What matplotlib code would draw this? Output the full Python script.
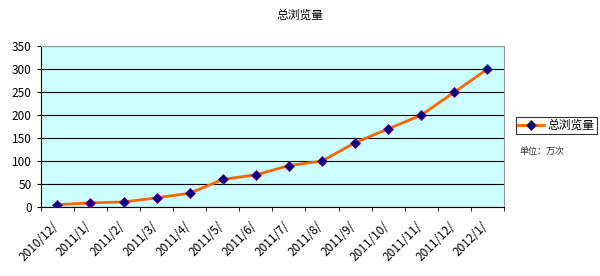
import numpy as np
import matplotlib
matplotlib.use("Agg")
import matplotlib.pyplot as plt
import matplotlib.transforms as mtransforms
from matplotlib.ticker import FixedLocator

plt.rcParams["font.family"] = ["Noto Sans CJK SC", "DejaVu Sans"]

# data
months = ["2010/12/", "2011/1/", "2011/2/", "2011/3/", "2011/4/", "2011/5/",
          "2011/6/", "2011/7/", "2011/8/", "2011/9/", "2011/10/", "2011/11/",
          "2011/12/", "2012/1/"]
views = [5, 9, 11, 20, 30, 60, 70, 90, 100, 140, 170, 200, 250, 300]
y_ticks = [0, 50, 100, 150, 200, 250, 300, 350]

fig = plt.figure(figsize=(6, 2.76), dpi=100)
ax = fig.add_axes([0.068, 0.25, 0.772, 0.583])
ax.set_facecolor("#CCFFFF")

x = np.arange(len(months))
ax.plot(x, views, color="#FF6600", lw=2, marker="D", ms=5,
        mfc="#000080", mec="#800080", mew=0.6, label="总浏览量", zorder=3)

ax.set_xlim(-0.5, len(months) - 0.5)
ax.set_ylim(0, 350)
ax.set_yticks(y_ticks)
ax.yaxis.grid(True, color="black", lw=0.8)
ax.set_axisbelow(True)

ax.set_xticks(x)
ax.set_xticklabels(months, rotation=45, ha="right", va="top",
                   rotation_mode="anchor", fontsize=8.5)
ax.tick_params(axis="x", length=0, pad=9)
# nudge the slanted labels a little to the left, like the original
shift = mtransforms.ScaledTranslation(-6 / 100, 0, fig.dpi_scale_trans)
for lbl in ax.get_xticklabels():
    lbl.set_transform(lbl.get_transform() + shift)
ax.xaxis.set_minor_locator(FixedLocator(np.arange(-0.5, len(months), 1)))
ax.tick_params(axis="x", which="minor", length=3, color="black", direction="out")
ax.tick_params(axis="y", length=3, labelsize=8.5, color="black")

for side in ["top", "right"]:
    ax.spines[side].set_color("#999999")
for side in ["left", "bottom"]:
    ax.spines[side].set_color("black")

fig.text(0.5, 0.945, "总浏览量", ha="center", va="center", fontsize=8.5)

leg = fig.legend(loc="center left", bbox_to_anchor=(0.850, 0.545),
                 fontsize=8.5, frameon=True, fancybox=False, edgecolor="black",
                 handlelength=2.2, borderpad=0.2, handletextpad=0.3)
leg.get_frame().set_linewidth(0.8)
fig.text(0.865, 0.452, "单位：万次", ha="left", va="center", fontsize=6.5,
         color="#333333")

fig.savefig("out.png", dpi=100)
